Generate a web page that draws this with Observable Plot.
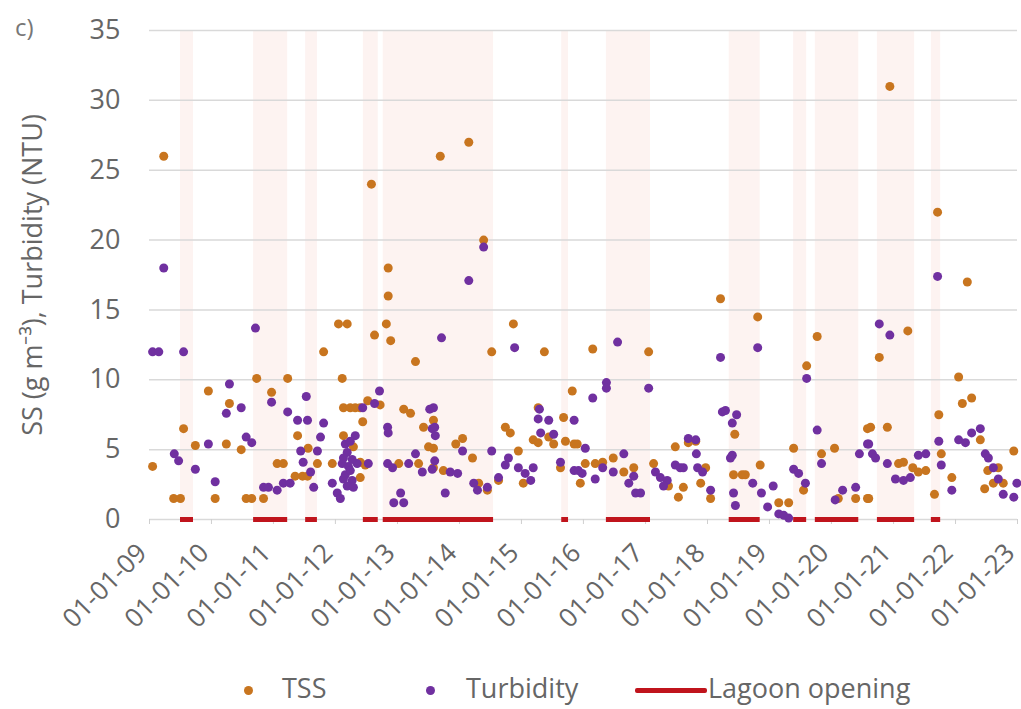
<!DOCTYPE html>
<html>
<head>
<meta charset="utf-8">
<script src="https://cdn.jsdelivr.net/npm/d3@7"></script>
<script src="https://cdn.jsdelivr.net/npm/@observablehq/plot@0.6"></script>
<style>
  html, body { margin: 0; padding: 0; background: #fff; }
  #wrap { position: relative; width: 1021px; height: 709px; font-family: "Open Sans", sans-serif; color: #666; }
  #panel { position: absolute; left: 15px; top: 10px; font-size: 24px; color: #777; }
  #legend { position: absolute; left: 0; top: 660px; width: 1021px; height: 49px; font-size: 27px; color: #666; }
  .lg { position: absolute; top: 8px; line-height: 40px; white-space: nowrap; }
  .dotk { position: absolute; width: 9px; height: 9px; border-radius: 50%; top: 26px; }
  .linek { position: absolute; height: 5px; top: 28px; }
</style>
</head>
<body>
<div id="wrap">
  <div id="chart"></div>
  <div id="panel">c)</div>
  <div id="legend"></div>
</div>
<script>
// ---- data (decimal years) ----
const seriesNames = ["TSS", "Turbidity", "Lagoon opening"];
const seriesColors = ["#c8751f", "#7030a0", "#c0141c"];

// Lagoon opening periods [start, end] in decimal years
const openings = [
  [2009.50, 2009.71], [2010.68, 2011.23], [2011.52, 2011.71], [2012.45, 2012.69],
  [2012.77, 2014.55], [2015.65, 2015.76], [2016.37, 2017.08], [2018.35, 2018.85],
  [2019.39, 2019.60], [2019.74, 2020.44], [2020.74, 2021.34], [2021.61, 2021.76]
];

// TSS (g m-3): [decimal year, value]
const tss = [
  [2009.23, 26.0], [2012.58, 24.0], [2012.85, 18.0], [2012.85, 16.0], [2013.69, 26.0], [2014.15, 27.0],
  [2014.39, 20.0], [2018.21, 15.8], [2020.94, 31.0], [2021.71, 22.0], [2022.19, 17.0],
  [2010.73, 10.1], [2011.23, 10.1], [2009.95, 9.2], [2010.97, 9.1], [2010.29, 8.3], [2009.55, 6.5],
  [2009.74, 5.3], [2010.24, 5.4], [2010.48, 5.0], [2009.05, 3.8], [2011.06, 4.0], [2011.16, 4.0],
  [2009.39, 1.5], [2009.50, 1.5], [2010.06, 1.5], [2010.56, 1.5], [2010.65, 1.5], [2010.84, 1.5],
  [2012.05, 14.0], [2012.19, 14.0], [2012.82, 14.0], [2012.63, 13.2], [2012.89, 12.8], [2011.81, 12.0],
  [2013.29, 11.3], [2012.11, 10.1], [2012.13, 8.0], [2012.24, 8.0], [2012.32, 8.0], [2012.40, 8.0],
  [2012.52, 8.5], [2012.72, 8.2], [2013.10, 7.9], [2013.21, 7.6], [2012.44, 7.0], [2013.42, 6.6],
  [2011.39, 6.0], [2012.13, 6.0], [2013.50, 5.2], [2011.56, 5.1], [2011.71, 4.0], [2011.95, 4.0],
  [2012.48, 3.9], [2013.02, 4.0], [2013.34, 4.0], [2011.35, 3.1], [2011.47, 3.1], [2011.55, 3.1],
  [2012.40, 3.0], [2012.29, 5.2], [2012.40, 4.1],
  [2014.87, 14.0], [2014.52, 12.0], [2015.37, 12.0], [2015.82, 9.2], [2013.58, 7.1], [2015.27, 8.0],
  [2015.68, 7.3], [2014.74, 6.6], [2014.82, 6.2], [2015.44, 5.9], [2015.19, 5.7], [2015.27, 5.5],
  [2015.52, 5.4], [2015.71, 5.6], [2015.85, 5.4], [2014.05, 5.8], [2013.94, 5.4], [2013.58, 5.1],
  [2014.21, 4.4], [2014.95, 4.9], [2013.58, 3.7], [2013.74, 3.5], [2015.63, 3.7], [2014.63, 2.8],
  [2015.03, 2.6], [2014.31, 2.6], [2014.45, 2.1], [2015.95, 2.6],
  [2016.15, 12.2], [2017.05, 12.0], [2015.90, 5.4], [2017.48, 5.2], [2017.69, 5.5], [2017.81, 5.6],
  [2016.48, 4.4], [2016.03, 4.0], [2016.19, 4.0], [2016.31, 4.1], [2016.65, 3.4], [2016.81, 3.7],
  [2017.13, 4.0], [2017.37, 2.4], [2017.61, 2.3], [2017.53, 1.6], [2017.97, 3.7], [2017.89, 2.6],
  [2018.05, 1.5],
  [2018.81, 14.5], [2019.77, 13.1], [2019.60, 11.0], [2018.44, 6.1], [2020.58, 6.5], [2019.39, 5.1],
  [2020.05, 5.1], [2019.84, 4.7], [2018.85, 3.9], [2018.42, 3.2], [2018.56, 3.2], [2018.61, 3.2],
  [2019.55, 2.1], [2019.15, 1.2], [2019.31, 1.2], [2020.11, 1.5], [2020.39, 1.5], [2020.58, 1.5],
  [2020.77, 11.6], [2021.23, 13.5], [2022.05, 10.2], [2022.11, 8.3], [2022.26, 8.7], [2021.73, 7.5],
  [2020.63, 6.6], [2020.90, 6.6], [2022.40, 5.7], [2022.94, 4.9], [2021.77, 4.7], [2021.08, 4.0],
  [2021.16, 4.1], [2021.52, 3.5], [2021.31, 3.7], [2021.40, 3.4], [2022.52, 3.5], [2022.69, 3.7],
  [2021.94, 3.0], [2022.61, 2.6], [2022.77, 2.6], [2022.47, 2.2], [2020.60, 1.5], [2021.66, 1.8]
];

// Turbidity (NTU): [decimal year, value]
const turbidity = [
  [2009.23, 18.0], [2014.39, 19.5], [2014.15, 17.1], [2021.71, 17.4],
  [2010.71, 13.7], [2009.05, 12.0], [2009.15, 12.0], [2009.55, 12.0], [2010.29, 9.7], [2010.97, 8.4],
  [2010.48, 8.0], [2010.24, 7.6], [2011.23, 7.7], [2010.56, 5.9], [2010.65, 5.5], [2009.95, 5.4],
  [2009.40, 4.7], [2009.47, 4.2], [2009.74, 3.6], [2010.06, 2.7], [2010.84, 2.3], [2010.92, 2.3],
  [2011.06, 2.1], [2011.16, 2.6],
  [2011.53, 8.8], [2012.71, 9.2], [2012.44, 8.0], [2012.63, 8.3], [2013.52, 7.9], [2011.39, 7.1],
  [2011.55, 7.1], [2011.81, 6.9], [2012.84, 6.6], [2012.85, 6.2], [2013.56, 6.5], [2011.76, 5.9],
  [2012.32, 6.0], [2011.44, 4.9], [2011.71, 4.9], [2011.48, 4.1], [2012.11, 4.0], [2012.35, 4.0],
  [2012.53, 4.0], [2012.84, 4.0], [2012.92, 3.7], [2013.18, 4.0], [2013.29, 4.7], [2013.40, 3.4],
  [2013.56, 3.6], [2011.60, 3.4], [2011.27, 2.6], [2011.65, 2.3], [2011.95, 2.6], [2012.03, 1.9],
  [2012.08, 1.5], [2012.94, 1.2], [2013.05, 1.9], [2013.10, 1.2],
  [2012.16, 5.4], [2012.19, 4.8], [2012.24, 5.6], [2012.13, 4.4], [2012.21, 3.8], [2012.16, 3.2],
  [2012.24, 3.5], [2012.27, 2.8], [2012.19, 2.4], [2012.29, 2.3], [2012.13, 2.9], [2012.27, 4.3],
  [2013.71, 13.0], [2014.89, 12.3], [2013.58, 8.0], [2013.60, 6.6], [2013.61, 6.0], [2015.29, 7.9],
  [2015.27, 7.2], [2015.44, 7.1], [2015.85, 7.1], [2015.31, 6.2], [2015.52, 6.1], [2014.05, 4.9],
  [2014.52, 4.9], [2013.60, 4.2], [2014.79, 4.4], [2014.74, 3.9], [2013.85, 3.4], [2013.97, 3.3],
  [2014.95, 3.7], [2015.06, 3.3], [2015.19, 3.7], [2015.63, 4.1], [2015.85, 3.5], [2014.63, 3.0],
  [2015.15, 2.8], [2014.23, 2.6], [2014.29, 2.1], [2014.45, 2.3], [2013.77, 1.9],
  [2016.55, 12.7], [2018.21, 11.6], [2016.37, 9.8], [2016.37, 9.4], [2017.05, 9.4], [2016.15, 8.7],
  [2018.24, 7.7], [2016.03, 5.1], [2017.69, 5.8], [2017.81, 5.7], [2017.82, 4.7], [2016.65, 4.7],
  [2015.92, 3.5], [2015.98, 3.3], [2016.31, 3.7], [2016.48, 3.4], [2016.73, 2.6], [2016.81, 3.1],
  [2016.84, 1.9], [2016.92, 1.9], [2017.16, 3.4], [2017.24, 3.0], [2017.35, 2.8], [2017.29, 2.4],
  [2017.48, 3.9], [2017.56, 3.7], [2017.61, 3.7], [2016.19, 2.9], [2017.84, 3.7], [2017.92, 3.4],
  [2018.05, 2.1],
  [2018.81, 12.3], [2019.60, 10.1], [2018.29, 7.8], [2018.47, 7.5], [2018.40, 6.9], [2019.77, 6.4],
  [2018.40, 4.6], [2018.37, 4.4], [2019.84, 4.0], [2020.45, 4.7], [2020.58, 5.4], [2019.39, 3.6],
  [2019.47, 3.3], [2019.58, 2.6], [2018.73, 2.6], [2019.06, 2.4], [2018.42, 1.9], [2018.45, 1.0],
  [2018.87, 1.9], [2018.97, 0.9], [2019.15, 0.4], [2019.31, 0.1], [2019.23, 0.3], [2020.06, 1.4],
  [2020.18, 2.1], [2020.39, 2.3],
  [2020.77, 14.0], [2020.94, 13.2], [2022.40, 6.5], [2022.05, 5.7], [2022.16, 5.5], [2022.26, 6.2],
  [2021.73, 5.6], [2020.60, 5.4], [2020.66, 4.7], [2020.71, 4.4], [2021.40, 4.6], [2021.52, 4.7],
  [2022.48, 4.7], [2022.53, 4.4], [2020.90, 4.0], [2021.77, 3.9], [2022.61, 3.7], [2021.03, 2.9],
  [2021.16, 2.8], [2021.27, 3.0], [2022.69, 2.9], [2021.94, 2.1], [2022.77, 1.8], [2022.94, 1.6],
  [2022.99, 2.6]
];

const yTicks = [0, 5, 10, 15, 20, 25, 30, 35];
const xTickYears = [2009, 2010, 2011, 2012, 2013, 2014, 2015, 2016, 2017, 2018, 2019, 2020, 2021, 2022, 2023];
const yLabel = "SS (g m\u207B\u00B3), Turbidity (NTU)";

// ---- helpers ----
function toDate(v) {
  const y = Math.floor(v);
  const a = Date.UTC(y, 0, 1), b = Date.UTC(y + 1, 0, 1);
  return new Date(a + (v - y) * (b - a));
}
const fmt = d3.utcFormat("%d-%m-%y");
const xTicks = xTickYears.map(toDate);

const chart = Plot.plot({
  width: 1021,
  height: 660,
  marginTop: 30,
  marginLeft: 149,
  marginRight: 4,
  marginBottom: 141,
  style: { fontFamily: "'Open Sans', sans-serif", fontSize: "27px", color: "#666", background: "#fff" },
  x: { type: "utc", domain: [xTicks[0], xTicks[xTicks.length - 1]] },
  y: { domain: [0, 35] },
  marks: [
    Plot.rect(openings, { x1: d => toDate(d[0]), x2: d => toDate(d[1]), fill: "#fdf3f1" }),
    Plot.ruleY(yTicks, { stroke: "#d9d9d9", strokeWidth: 1.5 }),
    Plot.axisY({
      ticks: yTicks, tickSize: 0, tickPadding: 29,
      label: yLabel, labelAnchor: "center", labelArrow: "none", labelOffset: 127,
      fontSize: 27
    }),
    // tick marks
    Plot.axisX({ ticks: xTicks, tickSize: 5, tickFormat: () => "", stroke: "#cfcfcf", label: null }),
    // rotated tick labels
    Plot.axisX({
      ticks: xTicks, tickFormat: fmt, tickRotate: -45,
      tickSize: 0, tickPadding: 29, label: null, fontSize: 26, dx: -7
    }),
    Plot.ruleY(openings, { x1: d => toDate(d[0]), x2: d => toDate(d[1]), y: () => 0, stroke: seriesColors[2], strokeWidth: 5 }),
    Plot.dot(tss, { x: d => toDate(d[0]), y: d => d[1], r: 4.5, fill: seriesColors[0], stroke: "none" }),
    Plot.dot(turbidity, { x: d => toDate(d[0]), y: d => d[1], r: 4.5, fill: seriesColors[1], stroke: "none" })
  ]
});
document.getElementById("chart").appendChild(chart);

// ---- legend ----
const legend = document.getElementById("legend");
const items = [
  { kind: "dot", key: 244, text: 282 },
  { kind: "dot", key: 426, text: 466 },
  { kind: "line", key: 635, text: 708 }
];
items.forEach((it, i) => {
  const k = document.createElement("div");
  if (it.kind === "dot") {
    k.className = "dotk";
    k.style.left = it.key + "px";
  } else {
    k.className = "linek";
    k.style.left = it.key + "px";
    k.style.width = "72px";
    k.style.borderRadius = "2px";
  }
  k.style.background = seriesColors[i];
  legend.appendChild(k);
  const t = document.createElement("div");
  t.className = "lg";
  t.style.left = it.text + "px";
  t.textContent = seriesNames[i];
  legend.appendChild(t);
});
</script>
</body>
</html>
